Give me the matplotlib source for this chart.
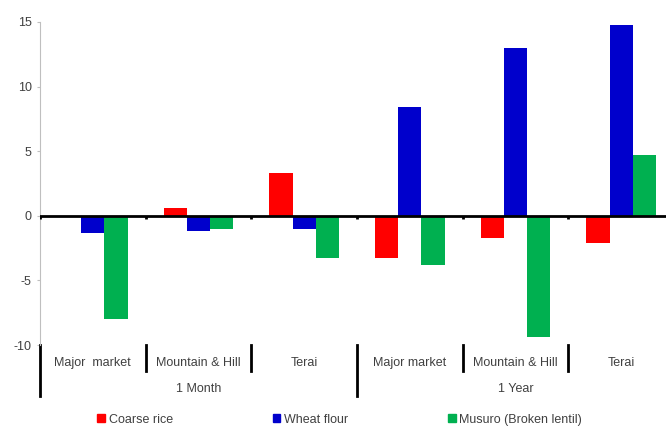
import numpy as np
import matplotlib.pyplot as plt
from matplotlib.patches import Patch
from matplotlib.lines import Line2D

plt.rcParams['font.family'] = ['Liberation Sans', 'DejaVu Sans']
plt.rcParams['axes.unicode_minus'] = False

regions = ['Major  market', 'Mountain & Hill', 'Terai', 'Major market', 'Mountain & Hill', 'Terai']
periods = ['1 Month', '1 Year']
series = ['Coarse rice', 'Wheat flour', 'Musuro (Broken lentil)']
coarse_rice = [0.0, 0.6, 3.3, -3.3, -1.7, -2.1]
wheat_flour = [-1.3, -1.2, -1.0, 8.4, 13.0, 14.8]
musuro = [-8.0, -1.0, -3.3, -3.8, -9.4, 4.7]
colors = ['#ff0000', '#0000cc', '#00b050']

txt = '#404040'

fig = plt.figure(figsize=(6.66, 4.26), dpi=100)
# axes run past the right edge, the source picture is cropped there
ax = fig.add_axes([40 / 666, 81 / 426, 634 / 666, 323 / 426])

x = np.arange(len(regions)) + 0.5
w = 0.22
for i, (vals, c) in enumerate(zip([coarse_rice, wheat_flour, musuro], colors)):
    ax.bar(x + (i - 1) * w, vals, w, color=c, edgecolor='none', label=series[i])

ax.set_xlim(0, len(regions))
ax.set_ylim(-10, 15)
ax.set_yticks([-10, -5, 0, 5, 10, 15])
ax.tick_params(axis='y', length=2, color='#bfbfbf', labelcolor=txt, labelsize=9, pad=4)
ax.set_xticks([])
for s in ['top', 'right', 'bottom']:
    ax.spines[s].set_visible(False)
ax.spines['left'].set_color('#bfbfbf')

ax.axhline(0, color='black', lw=2, zorder=5)
ax.vlines(np.arange(len(regions) + 1), -0.25, 0, color='black', lw=2, zorder=5)

tr = ax.get_xaxis_transform()
for i in range(len(regions) + 1):
    low = -0.158 if i in (0, 3) else -0.08
    ax.add_line(Line2D([i, i], [0, low], transform=tr, color='black', lw=2, clip_on=False))
for i, r in enumerate(regions):
    ax.text(i + 0.5, -0.056, r, transform=tr, ha='center', va='center', color=txt, fontsize=9)
for j, p in enumerate(periods):
    ax.text(j * 3 + 1.5, -0.136, p, transform=tr, ha='center', va='center', color=txt, fontsize=9)

handles = [Patch(color=c, label=s) for c, s in zip(colors, series)]
fig.legend(handles=handles, loc='center', bbox_to_anchor=(0.51, 0.015), ncol=3, frameon=False,
           fontsize=9, handlelength=0.6, handleheight=0.6, handletextpad=0.3,
           columnspacing=8, labelcolor=txt)

fig.savefig('out.png')
